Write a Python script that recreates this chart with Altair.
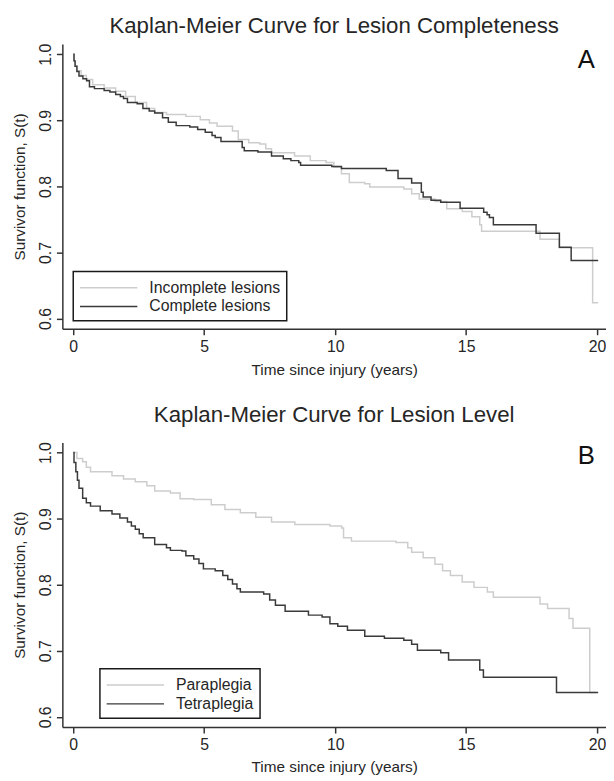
import altair as alt
import pandas as pd

# ---------------- Panel A: lesion completeness ----------------
a_incomplete_t = [0, 0.03, 0.08, 0.14, 0.30, 0.50, 0.74, 1.18, 1.62, 2.00, 2.37, 2.80, 3.11, 3.56,
                  4.30, 4.85, 5.20, 5.49, 6.08, 6.30, 6.70, 7.12, 7.35, 7.57, 8.45, 9.05, 9.65,
                  9.95, 10.24, 10.54, 11.13, 11.32, 12.62, 12.92, 13.21, 13.81, 14.26, 14.85,
                  15.22, 15.52, 15.59, 17.82, 18.56, 19.83, 20.04]
a_incomplete_s = [1.0, 0.99, 0.982, 0.975, 0.968, 0.962, 0.954, 0.949, 0.944, 0.936, 0.927, 0.918,
                  0.912, 0.909, 0.906, 0.901, 0.896, 0.891, 0.884, 0.871, 0.866, 0.864, 0.857,
                  0.851, 0.846, 0.839, 0.836, 0.829, 0.819, 0.806, 0.804, 0.799, 0.796, 0.789,
                  0.781, 0.777, 0.766, 0.762, 0.754, 0.742, 0.732, 0.720, 0.707, 0.624, 0.624]

a_complete_t = [0, 0.03, 0.07, 0.14, 0.22, 0.37, 0.51, 0.62, 0.81, 1.18, 1.40, 1.62, 1.80, 1.92,
                2.07, 2.44, 2.66, 2.90, 3.11, 3.41, 3.63, 3.93, 4.45, 4.75, 5.04, 5.30, 5.42,
                5.64, 6.45, 6.53, 7.05, 7.57, 8.02, 8.31, 8.61, 8.68, 9.87, 10.24, 11.95, 12.40,
                12.92, 13.29, 13.36, 13.66, 14.03, 14.77, 15.67, 15.80, 15.89, 16.04, 17.67,
                18.56, 19.01, 20.04]
a_complete_s = [1.0, 0.99, 0.982, 0.974, 0.967, 0.963, 0.960, 0.951, 0.948, 0.945, 0.943, 0.939,
                0.936, 0.933, 0.927, 0.925, 0.918, 0.914, 0.911, 0.904, 0.897, 0.892, 0.890,
                0.886, 0.882, 0.877, 0.874, 0.868, 0.859, 0.854, 0.852, 0.846, 0.842, 0.839,
                0.836, 0.832, 0.830, 0.827, 0.824, 0.812, 0.805, 0.791, 0.784, 0.779, 0.776,
                0.767, 0.761, 0.757, 0.753, 0.742, 0.729, 0.708, 0.688, 0.688]

# ---------------- Panel B: lesion level ----------------
b_para_t = [0, 0.14, 0.36, 0.50, 0.66, 1.48, 1.92, 2.37, 2.81, 3.11, 3.71, 4.08, 4.60, 5.27,
            5.79, 6.38, 6.97, 7.57, 8.46, 9.80, 10.25, 10.32, 10.62, 12.32, 12.77, 12.92,
            13.36, 13.81, 14.10, 14.40, 14.85, 15.30, 15.81, 16.04, 17.82, 18.11, 18.93,
            19.08, 19.72, 19.95]
b_para_s = [1.0, 0.991, 0.986, 0.978, 0.971, 0.965, 0.960, 0.956, 0.950, 0.942, 0.939, 0.930,
            0.929, 0.921, 0.914, 0.909, 0.902, 0.895, 0.891, 0.889, 0.886, 0.871, 0.866,
            0.864, 0.856, 0.849, 0.841, 0.831, 0.821, 0.814, 0.804, 0.796, 0.789, 0.781,
            0.771, 0.764, 0.749, 0.734, 0.637, 0.637]

b_tetra_t = [0, 0.03, 0.10, 0.16, 0.22, 0.36, 0.50, 0.66, 1.03, 1.48, 1.78, 2.07, 2.22, 2.37,
             2.52, 2.67, 3.11, 3.56, 3.71, 4.15, 4.30, 4.60, 4.80, 4.97, 5.42, 5.71, 5.90,
             6.08, 6.25, 6.38, 7.27, 7.50, 7.72, 8.09, 8.98, 9.50, 9.80, 10.10, 10.47, 11.13,
             11.88, 12.62, 12.92, 13.14, 14.03, 14.33, 15.52, 15.66, 18.45, 20.04]
b_tetra_s = [1.0, 0.985, 0.971, 0.958, 0.946, 0.931, 0.924, 0.919, 0.912, 0.907, 0.901, 0.895,
             0.889, 0.884, 0.877, 0.871, 0.861, 0.856, 0.852, 0.851, 0.844, 0.839, 0.832,
             0.824, 0.821, 0.814, 0.808, 0.801, 0.794, 0.789, 0.786, 0.777, 0.769, 0.760,
             0.754, 0.751, 0.741, 0.737, 0.731, 0.722, 0.719, 0.716, 0.710, 0.701, 0.697,
             0.686, 0.671, 0.660, 0.637, 0.637]

x_ticks = [0, 5, 10, 15, 20]
y_ticks = [0.6, 0.7, 0.8, 0.9, 1.0]

FONT = "Liberation Sans"
TXT = "#262626"
AXC = "#333333"
LIGHT = "#cdcdcd"
DARK = "#3a3a3a"

X_DOMAIN = [-0.415, 20.34]
Y_DOMAIN = [0.5845, 1.0154]
W, H = 550, 288


def frame(pairs):
    rows = []
    for name, ts, ss in pairs:
        for t, s in zip(ts, ss):
            rows.append({"group": name, "t": t, "s": s})
    return pd.DataFrame(rows)


def panel(df, order, title, letter, lx, ly, toff, ly_letter, xtpad):
    x = alt.X("t:Q", scale=alt.Scale(domain=X_DOMAIN, nice=False, zero=False),
              axis=alt.Axis(values=x_ticks, title="Time since injury (years)", format="d",
                            titlePadding=xtpad))
    y = alt.Y("s:Q", scale=alt.Scale(domain=Y_DOMAIN, nice=False, zero=False),
              axis=alt.Axis(values=y_ticks, title="Survivor function, S(t)", format=".1f",
                            labelAngle=270))
    lines = alt.Chart(df).mark_line(interpolate="step-after", strokeWidth=1.5).encode(
        x=x, y=y,
        color=alt.Color("group:N",
                        scale=alt.Scale(domain=order, range=[LIGHT, DARK]),
                        legend=alt.Legend(title=None, orient="none", legendX=lx, legendY=ly)),
        detail="group:N",
    )
    lab = alt.Chart(pd.DataFrame({"lab": [letter]})).mark_text(
        fontSize=26, font=FONT, color="#111111", align="center", baseline="middle"
    ).encode(text="lab:N", x=alt.value(530), y=alt.value(ly_letter))
    return alt.layer(lines, lab).properties(
        width=W, height=H,
        title=alt.TitleParams(title, fontSize=22.5, font=FONT, color=TXT, fontWeight="normal",
                              anchor="middle", frame="group", offset=toff),
    )


dfA = frame([("Incomplete lesions", a_incomplete_t, a_incomplete_s),
             ("Complete lesions", a_complete_t, a_complete_s)])
dfB = frame([("Paraplegia", b_para_t, b_para_s),
             ("Tetraplegia", b_tetra_t, b_tetra_s)])

pA = panel(dfA, ["Incomplete lesions", "Complete lesions"],
           "Kaplan-Meier Curve for Lesion Completeness", "A", 11, 230, 6, 16, 8)
pB = panel(dfB, ["Paraplegia", "Tetraplegia"],
           "Kaplan-Meier Curve for Lesion Level", "B", 38, 229, 15, 14, 7)

chart = alt.vconcat(pA, pB, spacing=26).resolve_scale(color="independent").resolve_legend(
    color="independent"
).properties(
    padding={"left": 5, "top": 2, "right": 0, "bottom": 0}
).configure_view(stroke=None).configure_axis(
    grid=False, domainColor=AXC, domainWidth=1.5, tickColor=AXC, tickWidth=1.5, tickSize=6,
    labelFont=FONT, labelFontSize=16, labelColor=TXT,
    titleFont=FONT, titleFontSize=15.5, titleColor=TXT, titleFontWeight="normal",
).configure_axisY(titlePadding=10, labelPadding=11, labelBaseline="middle",
                  labelAlign="center").configure_axisX(
    labelPadding=4
).configure_legend(
    strokeColor="#1a1a1a", strokeWidth=1.5, fillColor="white", padding=6, cornerRadius=0,
    symbolType="M-1,0H5", symbolSize=374, symbolStrokeWidth=1.5, labelFont=FONT,
    labelFontSize=16, labelColor=TXT, labelOffset=50, rowPadding=0,
)

chart.save("out.html", embed_options={"renderer": "svg", "actions": False})
